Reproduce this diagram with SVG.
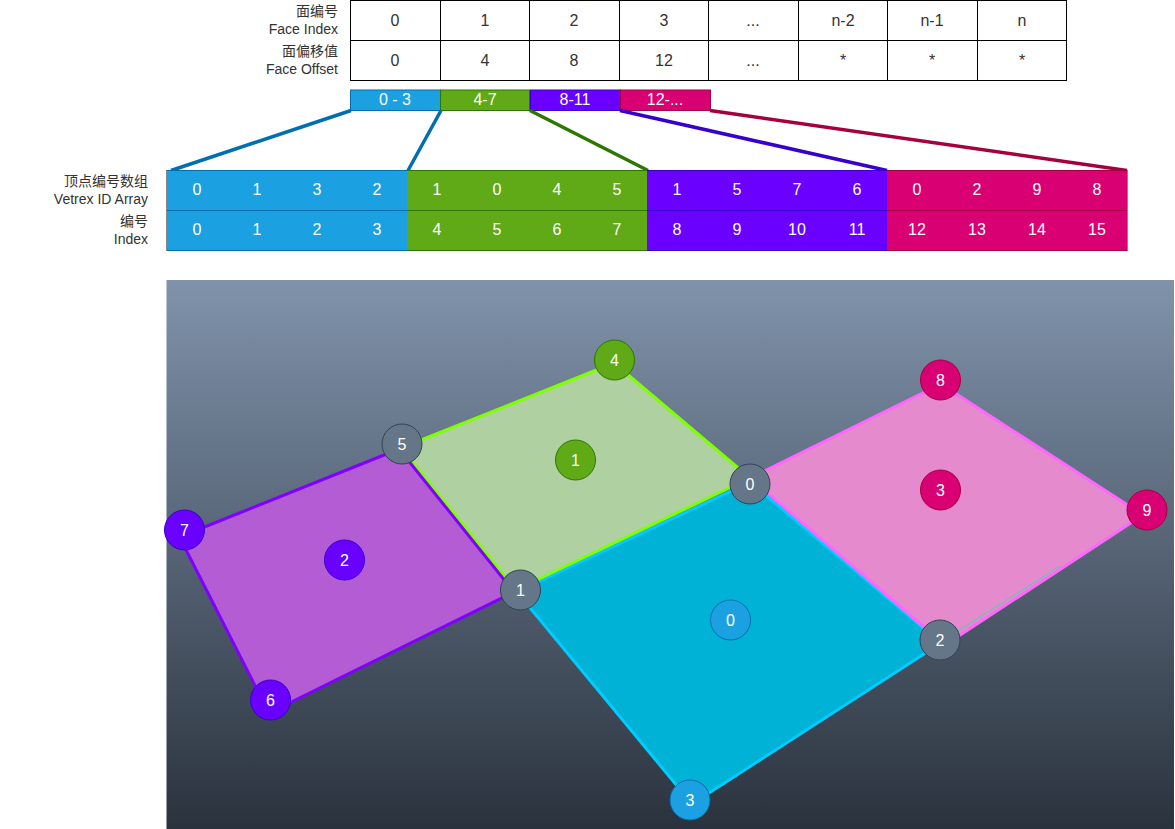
<svg xmlns="http://www.w3.org/2000/svg" width="1175" height="829" viewBox="0 0 1175 829">
<style>
text{font-family:"Liberation Sans","Noto Sans CJK SC",Arial,sans-serif;text-anchor:middle}
.t{font-size:16px;fill:#333}
.w{font-size:16px;fill:#fff}
.n{font-size:16px;fill:#fff}
.l{font-size:14px;fill:#333;text-anchor:end}
.c{fill:#fff;stroke:#000;stroke-width:1}
.blue{fill:#1ba1e2;stroke:#006eaf}
.green{fill:#60a917;stroke:#2d7600}
.violet{fill:#6a00ff;stroke:#3700cc}
.pink{fill:#d80073;stroke:#a50040}
.grey{fill:#647687;stroke:#314354}
.conn{fill:none;stroke-width:3.5}
.edge{stroke-width:3;stroke-linejoin:round}
</style>
<defs><linearGradient id="bg" x1="0" y1="0" x2="0" y2="1"><stop offset="0" stop-color="#8093ab"/><stop offset="1" stop-color="#2a323d"/></linearGradient></defs>
<g id="face-table">
<rect class="c" x="350.5" y="0.5" width="716" height="80"/>
<path d="M350.500 40.500H1066.500M440.500 .5V80.500M529.500 .5V80.500M619.500 .5V80.500M708.500 .5V80.500M798.500 .5V80.500M887.500 .5V80.500M977.500 .5V80.500" fill="none" stroke="#000"/>
<text class="t" x="395" y="26">0</text><text class="t" x="485" y="26">1</text><text class="t" x="574" y="26">2</text><text class="t" x="664" y="26">3</text><text class="t" x="753" y="26">...</text><text class="t" x="843" y="26">n-2</text><text class="t" x="932" y="26">n-1</text><text class="t" x="1022" y="26">n</text>
<text class="t" x="395" y="66">0</text><text class="t" x="485" y="66">4</text><text class="t" x="574" y="66">8</text><text class="t" x="664" y="66">12</text><text class="t" x="753" y="66">...</text><text class="t" x="843" y="66">*</text><text class="t" x="932" y="66">*</text><text class="t" x="1022" y="66">*</text>
<text class="l" x="338" y="16">面编号</text><text class="l" x="338" y="34">Face Index</text>
<text class="l" x="338" y="56">面偏移值</text><text class="l" x="338" y="74">Face Offset</text>
</g>
<g id="ranges">
<rect class="blue" x="350.5" y="90" width="90" height="20.5"/><text class="w" x="395" y="105">0 - 3</text>
<rect class="green" x="440.5" y="90" width="89" height="20.5"/><text class="w" x="485" y="105">4-7</text>
<rect class="violet" x="530.5" y="90" width="90" height="20.5"/><text class="w" x="575" y="105">8-11</text>
<rect class="pink" x="620.5" y="90" width="90" height="20.5"/><text class="w" x="665" y="105">12-...</text>
</g>
<g id="connectors">
<path class="conn" stroke="#006eaf" d="M351 110.500 171 170.500M441 110.500 408 170.500"/>
<path class="conn" stroke="#2d7600" d="M530 110.500 648 170.500"/>
<path class="conn" stroke="#3700cc" d="M620 110.500 887 170.500"/>
<path class="conn" stroke="#a50040" d="M710 110.500 1127 170.500"/>
</g>
<g id="vertex-array">
<path d="M166.500 170V251M1127.500 170V251" stroke="#888"/>
<rect x="167" y="170" width="240" height="80.500" fill="#1ba1e2"/>
<rect x="407" y="170" width="240" height="80.500" fill="#60a917"/>
<rect x="647" y="170" width="240" height="80.500" fill="#6a00ff"/>
<rect x="887" y="170" width="240" height="80.500" fill="#d80073"/>
<path d="M167 170.500H407M167 210.500H407M167 250.500H407" stroke="#006eaf"/><path d="M407 170.500H647M407 210.500H647M407 250.500H647" stroke="#2d7600"/><path d="M647 170.500H887M647 210.500H887M647 250.500H887" stroke="#3700cc"/><path d="M887 170.500H1127M887 210.500H1127M887 250.500H1127" stroke="#a50040"/>
<text class="w" x="197" y="195">0</text><text class="w" x="257" y="195">1</text><text class="w" x="317" y="195">3</text><text class="w" x="377" y="195">2</text><text class="w" x="437" y="195">1</text><text class="w" x="497" y="195">0</text><text class="w" x="557" y="195">4</text><text class="w" x="617" y="195">5</text><text class="w" x="677" y="195">1</text><text class="w" x="737" y="195">5</text><text class="w" x="797" y="195">7</text><text class="w" x="857" y="195">6</text><text class="w" x="917" y="195">0</text><text class="w" x="977" y="195">2</text><text class="w" x="1037" y="195">9</text><text class="w" x="1097" y="195">8</text>
<text class="w" x="197" y="235">0</text><text class="w" x="257" y="235">1</text><text class="w" x="317" y="235">2</text><text class="w" x="377" y="235">3</text><text class="w" x="437" y="235">4</text><text class="w" x="497" y="235">5</text><text class="w" x="557" y="235">6</text><text class="w" x="617" y="235">7</text><text class="w" x="677" y="235">8</text><text class="w" x="737" y="235">9</text><text class="w" x="797" y="235">10</text><text class="w" x="857" y="235">11</text><text class="w" x="917" y="235">12</text><text class="w" x="977" y="235">13</text><text class="w" x="1037" y="235">14</text><text class="w" x="1097" y="235">15</text>
<text class="l" x="148" y="186">顶点编号数组</text><text class="l" x="148" y="204">Vetrex ID Array</text>
<text class="l" x="148" y="226">编号</text><text class="l" x="148" y="244">Index</text>
</g>
<g id="mesh">
<rect x="166.500" y="280" width="1007.500" height="549" fill="url(#bg)"/>
<path d="M517 592 750 482 941 643 692 804Z" fill="#00b2d6" stroke="#00ccff" class="edge"/>
<path d="M750 478 941 384 1143 515 945 645Z" fill="#e68ace" stroke="#ff66ff" class="edge"/>
<path d="M958 631 1060 566" fill="none" stroke="#3fd8a0" stroke-width="1"/>
<path d="M401 448 614 363 750 478 516 590Z" fill="#afd0a0" stroke="#80ff00" class="edge"/>
<path d="M179.500 537 399 449 514 592 269 713Z" fill="#b35cd3" stroke="#8000ff" class="edge"/>
</g>
<g id="v4"><circle class="green" cx="614.500" cy="360" r="20"/><text class="n" x="614.500" y="365.500">4</text></g>
<g id="v8"><circle class="pink" cx="940.500" cy="380" r="20"/><text class="n" x="940.500" y="385.500">8</text></g>
<g id="v5"><circle class="grey" cx="402" cy="444" r="20"/><text class="n" x="402" y="449.500">5</text></g>
<g id="v0"><circle class="grey" cx="750" cy="484" r="20"/><text class="n" x="750" y="489.500">0</text></g>
<g id="f1"><circle class="green" cx="575.500" cy="460" r="20"/><text class="n" x="575.500" y="465.500">1</text></g>
<g id="f3"><circle class="pink" cx="940.500" cy="490" r="20"/><text class="n" x="940.500" y="495.500">3</text></g>
<g id="v9"><circle class="pink" cx="1147" cy="510" r="20"/><text class="n" x="1147" y="515.500">9</text></g>
<g id="v7"><circle class="violet" cx="184.500" cy="530" r="20"/><text class="n" x="184.500" y="535.500">7</text></g>
<g id="f2"><circle class="violet" cx="344.500" cy="560" r="20"/><text class="n" x="344.500" y="565.500">2</text></g>
<g id="v1"><circle class="grey" cx="520.500" cy="590" r="20"/><text class="n" x="520.500" y="595.500">1</text></g>
<g id="f0"><circle class="blue" cx="730.500" cy="620" r="20"/><text class="n" x="730.500" y="625.500">0</text></g>
<g id="v2"><circle class="grey" cx="940" cy="640" r="20"/><text class="n" x="940" y="645.500">2</text></g>
<g id="v6"><circle class="violet" cx="270.500" cy="700" r="20"/><text class="n" x="270.500" y="705.500">6</text></g>
<g id="v3"><circle class="blue" cx="690" cy="800" r="20"/><text class="n" x="690" y="805.500">3</text></g>
</svg>
